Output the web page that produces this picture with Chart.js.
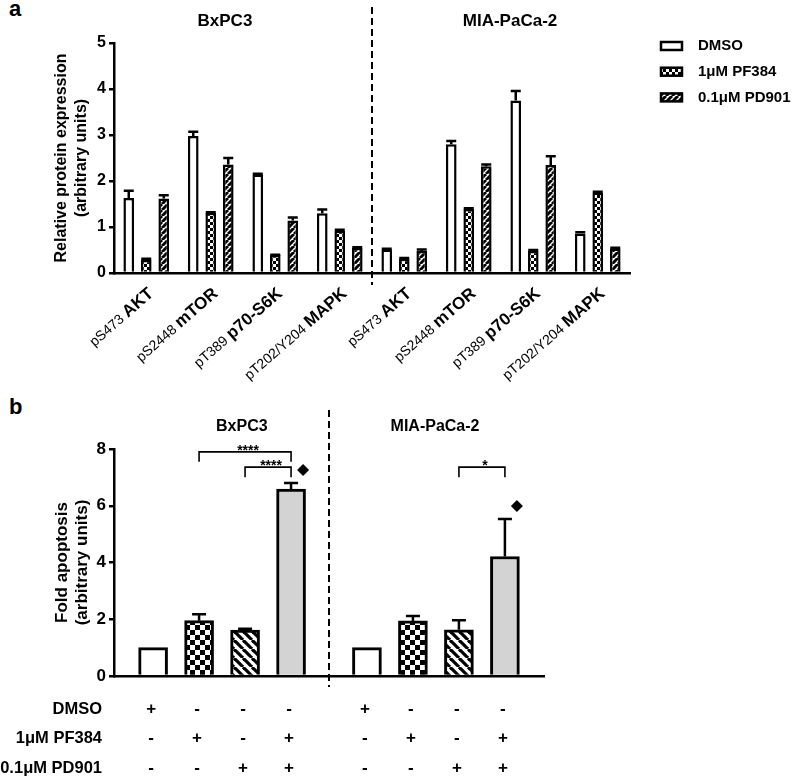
<!DOCTYPE html>
<html>
<head>
<meta charset="utf-8">
<script src="https://cdn.jsdelivr.net/npm/chart.js@4.4.1/dist/chart.umd.min.js"></script>
<style>
  body { margin: 0; background: #fff; width: 800px; height: 777px; position: relative; overflow: hidden;
         font-family: "Liberation Sans", Arial, sans-serif; }
  .wrap { position: absolute; left: 0; width: 800px; }
  #wa { top: 0; height: 390px; }
  #wb { top: 370px; height: 407px; }
  .letter { position: absolute; font-weight: bold; font-size: 22px; }
</style>
</head>
<body>
<div class="letter" style="left:9px;top:-4px">a</div>
<div class="letter" style="left:9px;top:394px">b</div>
<div class="wrap" id="wb"><canvas id="chartB"></canvas></div>
<div class="wrap" id="wa"><canvas id="chartA"></canvas></div>

<script>
// ---------- data: panel a (protein expression) ----------
const cellLines = ['BxPC3', 'MIA-PaCa-2'];
const sites = ['pS473', 'pS2448', 'pT389', 'pT202/Y204'];
const proteins = ['AKT', 'mTOR', 'p70-S6K', 'MAPK'];
const treatments = ['DMSO', '1μM PF384', '0.1μM PD901'];

// BxPC3 x4 proteins, then MIA-PaCa-2 x4 proteins
const dmsoA     = [1.63, 2.98, 2.14, 1.30, 0.51, 2.80, 3.75, 0.86];
const dmsoErrA  = [0.18, 0.11, 0.04, 0.10, 0.04, 0.09, 0.23, 0.05];
const pf384A    = [0.28, 1.31, 0.39, 0.92, 0.31, 1.39, 0.48, 1.75];
const pf384ErrA = [0.05, 0.03, 0.03, 0.04, 0.04, 0.04, 0.04, 0.04];
const pd901A    = [1.62, 2.36, 1.14, 0.55, 0.48, 2.32, 2.35, 0.53];
const pd901ErrA = [0.09, 0.16, 0.09, 0.03, 0.05, 0.06, 0.21, 0.04];
const yTicksA = [0, 1, 2, 3, 4, 5];

// ---------- data: panel b (apoptosis) ----------
const apoptosis    = [1.00, 1.95, 1.62, 6.59, 1.00, 1.94, 1.63, 4.21];
const apoptosisErr = [0, 0.26, 0.08, 0.25, 0, 0.21, 0.37, 1.36];
const treatB = [0, 1, 2, 3, 0, 1, 2, 3];
const rowLabelsB = ['DMSO', '1μM PF384', '0.1μM PD901'];
const dmsoRow  = ['+', '-', '-', '-', '+', '-', '-', '-'];
const pf384Row = ['-', '+', '-', '+', '-', '+', '-', '+'];
const pd901Row = ['-', '-', '+', '+', '-', '-', '+', '+'];
const yTicksB = [0, 2, 4, 6, 8];
const comparisons = [
  { from: 1, to: 3, level: 7.9, stars: '****' },
  { from: 2, to: 3, level: 7.36, stars: '****' },
  { from: 6, to: 7, level: 7.36, stars: '*' }
];
const flagged = [3, 7];   // bars marked with a diamond

const labelsA = cellLines.flatMap(() => proteins);
const xPosB = apoptosis.map((_, i) => i + (i >= 4 ? 0.65 : 0));   // gap between cell lines

Chart.defaults.font.family = '"Liberation Sans", Arial, sans-serif';
Chart.defaults.color = '#000';

const FONT = '"Liberation Sans", Arial, sans-serif';

function pattern(ctx, size, paint) {
    const c = document.createElement('canvas');
    c.width = c.height = size;
    const g = c.getContext('2d');
    paint(g, size);
    return ctx.createPattern(c, 'repeat');
}

function stripes(g, s, dir, w) {
    g.fillStyle = '#fff';
    g.fillRect(0, 0, s, s);
    g.strokeStyle = '#000';
    g.lineWidth = w;
    for (let k = -1; k <= 1; k++) {
        g.beginPath();
        if (dir === '/') { g.moveTo(k * s, s); g.lineTo(k * s + s, 0); }
        else { g.moveTo(k * s, 0); g.lineTo(k * s + s, s); }
        g.stroke();
    }
}

function checker(g, s) {
    const h = s / 2;
    g.fillStyle = '#fff';
    g.fillRect(0, 0, s, s);
    g.fillStyle = '#000';
    g.fillRect(0, 0, h, h);
    g.fillRect(h, h, h, h);
}

const ctxA = document.getElementById('chartA').getContext('2d');
const ctxB = document.getElementById('chartB').getContext('2d');

const checkA = pattern(ctxA, 6, checker);
const stripeA = pattern(ctxA, 6, (g, s) => stripes(g, s, '/', 3));
const fillsB = ['#ffffff', pattern(ctxB, 10, checker), pattern(ctxB, 9, (g, s) => stripes(g, s, '\\', 3.2)), '#d3d3d3'];

// upper error bars, read from each dataset's err array
function errorBars(capWidth) {
    return {
        id: 'errorBars',
        afterDatasetsDraw(chart) {
            const { ctx } = chart;
            const y = chart.scales.y;
            chart.data.datasets.forEach((ds, i) => {
                if (!ds.err) return;
                const meta = chart.getDatasetMeta(i);
                meta.data.forEach((bar, j) => {
                    const e = ds.err[j];
                    if (!e) return;
                    const v = meta.controller.getParsed(j).y;
                    const top = y.getPixelForValue(v + e);
                    ctx.save();
                    ctx.strokeStyle = '#000';
                    ctx.lineWidth = 2.5;
                    ctx.beginPath();
                    ctx.moveTo(bar.x, bar.y);
                    ctx.lineTo(bar.x, top);
                    ctx.moveTo(bar.x - capWidth / 2, top + 1);
                    ctx.lineTo(bar.x + capWidth / 2, top + 1);
                    ctx.stroke();
                    ctx.restore();
                });
            });
        }
    };
}

function dashedDivider(chart, xPix, above, below) {
    const { ctx, chartArea } = chart;
    ctx.save();
    ctx.strokeStyle = '#000';
    ctx.lineWidth = 2;
    ctx.setLineDash([7, 4]);
    ctx.beginPath();
    ctx.moveTo(xPix, chartArea.top - above);
    ctx.lineTo(xPix, chartArea.bottom + below);
    ctx.stroke();
    ctx.restore();
}

// ================= PANEL A =================
const decorA = {
    id: 'decorA',
    afterDraw(chart) {
        const { ctx, chartArea, scales: { x } } = chart;
        dashedDivider(chart, (x.getPixelForValue(3) + x.getPixelForValue(4)) / 2, 36, 12);

        ctx.save();
        ctx.fillStyle = '#000';
        ctx.textAlign = 'center';
        ctx.textBaseline = 'middle';
        ctx.font = 'bold 17px ' + FONT;
        ctx.fillText(cellLines[0], x.getPixelForValue(1.22), chartArea.top - 22);
        ctx.fillText(cellLines[1], x.getPixelForValue(5.64), chartArea.top - 22);

        // rotated category labels: small site + bold protein
        labelsA.forEach((prot, i) => {
            ctx.save();
            ctx.translate(x.getPixelForValue(i) + 8, chartArea.bottom + 22);
            ctx.rotate(-41 * Math.PI / 180);
            ctx.textAlign = 'right';
            ctx.textBaseline = 'alphabetic';
            ctx.font = 'bold 17px ' + FONT;
            ctx.fillText(prot, 0, 0);
            const w = ctx.measureText(prot).width;
            ctx.font = '14px ' + FONT;
            ctx.fillText(sites[i % 4] + ' ', -w, 0);
            ctx.restore();
        });

        // legend
        ctx.textAlign = 'left';
        ctx.font = 'bold 15px ' + FONT;
        chart.data.datasets.forEach((ds, i) => {
            const lx = chartArea.right + 30, ly = 46 + i * 25.7;
            ctx.fillStyle = ds.backgroundColor;
            ctx.fillRect(lx, ly - 4, 23, 8);
            ctx.strokeStyle = '#000';
            ctx.lineWidth = 2.5;
            ctx.strokeRect(lx + 1, ly - 4, 21, 8);
            ctx.fillStyle = '#000';
            ctx.fillText(ds.label, lx + 38, ly);
        });
        ctx.restore();
    }
};

const barStyleA = { borderColor: '#000', borderWidth: 2.5, categoryPercentage: 0.814, barPercentage: 0.61 };

new Chart(ctxA, {
    type: 'bar',
    data: {
        labels: labelsA,
        datasets: [
            { label: treatments[0], data: dmsoA, err: dmsoErrA, backgroundColor: '#ffffff', ...barStyleA },
            { label: treatments[1], data: pf384A, err: pf384ErrA, backgroundColor: checkA, ...barStyleA },
            { label: treatments[2], data: pd901A, err: pd901ErrA, backgroundColor: stripeA, ...barStyleA }
        ]
    },
    options: {
        responsive: true,
        maintainAspectRatio: false,
        animation: false,
        layout: { padding: { top: 43, right: 170, left: 0, bottom: 0 } },
        plugins: { legend: { display: false }, tooltip: { enabled: false } },
        scales: {
            x: {
                grid: { display: false },
                border: { display: true, color: '#000', width: 2.5 },
                ticks: { display: false },
                afterFit: s => { s.height = 117; }
            },
            y: {
                min: 0,
                max: yTicksA[yTicksA.length - 1],
                afterBuildTicks: s => { s.ticks = yTicksA.map(v => ({ value: v })); },
                grid: { display: true, drawOnChartArea: false, color: '#000', lineWidth: 2.5, tickLength: 5 },
                border: { display: true, color: '#000', width: 2.5 },
                ticks: { font: { size: 16, weight: 'bold' }, padding: 3 },
                title: {
                    display: true,
                    text: ['Relative protein expression', '(arbitrary units)'],
                    font: { size: 16, weight: 'bold', lineHeight: 1.25 },
                    padding: { top: 52, bottom: 0 }
                },
                afterFit: s => { s.width = 114; }
            }
        }
    },
    plugins: [errorBars(10), decorA]
});

// ================= PANEL B =================
const decorB = {
    id: 'decorB',
    afterDraw(chart) {
        const { ctx, chartArea, scales: { x, y } } = chart;
        dashedDivider(chart, (x.getPixelForValue(xPosB[3]) + x.getPixelForValue(xPosB[4])) / 2, 39, 11);

        ctx.save();
        ctx.fillStyle = '#000';
        ctx.strokeStyle = '#000';
        ctx.textAlign = 'center';
        ctx.textBaseline = 'middle';
        ctx.font = 'bold 16px ' + FONT;
        ctx.fillText(cellLines[0], x.getPixelForValue(1.93), chartArea.top - 22);
        ctx.fillText(cellLines[1], x.getPixelForValue(6.13), chartArea.top - 22);

        // significance brackets
        ctx.lineWidth = 1.6;
        comparisons.forEach(c => {
            const x1 = x.getPixelForValue(xPosB[c.from]), x2 = x.getPixelForValue(xPosB[c.to]);
            const yl = y.getPixelForValue(c.level);
            ctx.beginPath();
            ctx.moveTo(x1, yl + 10);
            ctx.lineTo(x1, yl);
            ctx.lineTo(x2, yl);
            ctx.lineTo(x2, yl + 10);
            ctx.stroke();
            ctx.font = 'bold 14px ' + FONT;
            ctx.textBaseline = 'alphabetic';
            ctx.fillText(c.stars, (x1 + x2) / 2 + 3, yl + 3);
        });

        // diamonds above flagged bars
        flagged.forEach(i => {
            const cx = x.getPixelForValue(xPosB[i]) + 12;
            const cy = y.getPixelForValue(apoptosis[i] + apoptosisErr[i]) - 12;
            ctx.beginPath();
            ctx.moveTo(cx, cy - 6);
            ctx.lineTo(cx + 6, cy);
            ctx.lineTo(cx, cy + 6);
            ctx.lineTo(cx - 6, cy);
            ctx.closePath();
            ctx.fill();
        });

        // treatment table under the axis
        ctx.textBaseline = 'middle';
        [dmsoRow, pf384Row, pd901Row].forEach((row, r) => {
            const ry = chartArea.bottom + 33 + r * 29.5;
            ctx.font = 'bold 16.5px ' + FONT;
            ctx.textAlign = 'right';
            ctx.fillText(rowLabelsB[r], chartArea.left - 12, ry);
            ctx.font = 'bold 17px ' + FONT;
            ctx.textAlign = 'center';
            row.forEach((s, i) => ctx.fillText(s, x.getPixelForValue(xPosB[i]) - 2, ry));
        });
        ctx.restore();
    }
};

new Chart(ctxB, {
    type: 'bar',
    data: {
        datasets: [{
            label: 'Fold apoptosis',
            data: xPosB.map((xv, i) => ({ x: xv, y: apoptosis[i] })),
            err: apoptosisErr,
            backgroundColor: treatB.map(t => fillsB[t]),
            borderColor: '#000',
            borderWidth: 3,
            barThickness: 29
        }]
    },
    options: {
        responsive: true,
        maintainAspectRatio: false,
        animation: false,
        layout: { padding: { top: 79, right: 256, left: 0, bottom: 0 } },
        plugins: { legend: { display: false }, tooltip: { enabled: false } },
        scales: {
            x: {
                type: 'linear',
                min: -0.85,
                max: 8.5,
                offset: false,
                grid: { display: false },
                border: { display: true, color: '#000', width: 2.5 },
                ticks: { display: false },
                afterFit: s => { s.height = 101; }
            },
            y: {
                min: 0,
                max: yTicksB[yTicksB.length - 1],
                afterBuildTicks: s => { s.ticks = yTicksB.map(v => ({ value: v })); },
                grid: { display: true, drawOnChartArea: false, color: '#000', lineWidth: 2.5, tickLength: 5 },
                border: { display: true, color: '#000', width: 2.5 },
                ticks: { font: { size: 17, weight: 'bold' }, padding: 3 },
                title: {
                    display: true,
                    text: ['Fold apoptosis', '(arbitrary units)'],
                    font: { size: 17, weight: 'bold', lineHeight: 1.15 },
                    padding: { top: 53, bottom: 0 }
                },
                afterFit: s => { s.width = 114; }
            }
        }
    },
    plugins: [errorBars(14), decorB]
});
</script>
</body>
</html>
